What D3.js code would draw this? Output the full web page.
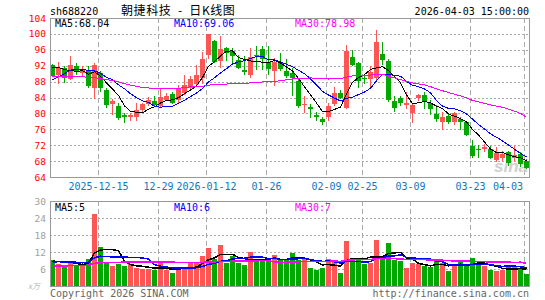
<!DOCTYPE html>
<html>
<head>
<meta charset="utf-8">
<script src="https://cdn.jsdelivr.net/npm/d3@7"></script>
<style>
  body { margin: 0; background: #fff; }
  svg { display: block; }
  text { font-family: "DejaVu Sans Mono", monospace; font-size: 10px; }
</style>
</head>
<body>
<div id="chart"></div>
<script>
// Trading days shown (2025-12-03 .. 2026-04-03)
var dates = [
  "2025-12-03","2025-12-04","2025-12-05","2025-12-08","2025-12-09","2025-12-10","2025-12-11","2025-12-12",
  "2025-12-15","2025-12-16","2025-12-17","2025-12-18","2025-12-19",
  "2025-12-22","2025-12-23","2025-12-24","2025-12-25","2025-12-26",
  "2025-12-29","2025-12-30","2025-12-31",
  "2026-01-05","2026-01-06","2026-01-07","2026-01-08","2026-01-09",
  "2026-01-12","2026-01-13","2026-01-14","2026-01-15","2026-01-16",
  "2026-01-19","2026-01-20","2026-01-21","2026-01-22","2026-01-23",
  "2026-01-26","2026-01-27","2026-01-28","2026-01-29","2026-01-30",
  "2026-02-02","2026-02-03","2026-02-04","2026-02-05","2026-02-06",
  "2026-02-09","2026-02-10","2026-02-11","2026-02-12","2026-02-13",
  "2026-02-24","2026-02-25","2026-02-26","2026-02-27",
  "2026-03-02","2026-03-03","2026-03-04","2026-03-05","2026-03-06",
  "2026-03-09","2026-03-10","2026-03-11","2026-03-12","2026-03-13",
  "2026-03-16","2026-03-17","2026-03-18","2026-03-19","2026-03-20",
  "2026-03-23","2026-03-24","2026-03-25","2026-03-26","2026-03-27",
  "2026-03-30","2026-03-31","2026-04-01","2026-04-02","2026-04-03"
];

var open = [92.3,89.6,91.3,88.7,91.9,90.2,90.7,86.3,90.2,86.0,
  82.3,81.9,79.7,79.0,79.1,80.9,82.4,83.0,81.9,83.3,
  84.8,83.3,85.1,86.4,87.3,88.8,94.6,98.2,93.2,96.5,
  95.8,93.4,90.9,89.6,94.7,96.1,92.9,90.6,93.0,90.7,
  90.2,88.1,82.3,81.7,79.7,78.5,79.1,82.4,85.2,81.4,
  94.3,92.6,88.9,88.6,88.9,94.9,93.2,83.1,84.0,82.0,
  80.1,84.0,84.6,82.7,79.9,77.8,79.3,77.8,78.5,77.8,
  71.9,71.1,71.1,71.1,68.4,68.7,70.2,68.7,69.8,68.1];

var high = [92.5,92.9,92.0,94.4,92.7,91.9,92.0,92.6,90.6,86.4,
  83.5,82.5,80.2,80.2,82.7,82.7,84.2,84.4,86.4,85.1,
  85.5,87.2,89.6,89.4,92.3,95.5,100.1,98.5,99.4,96.8,
  96.4,94.8,94.4,96.4,97.0,97.0,97.0,94.0,95.1,93.8,
  91.5,88.8,84.3,82.4,80.3,79.1,82.7,86.7,85.8,97.2,
  96.0,93.0,90.0,92.0,101.0,97.9,93.7,84.3,84.3,85.4,
  82.7,85.0,85.4,83.3,82.2,80.3,79.9,80.3,79.2,78.2,
  73.3,72.1,72.3,71.7,71.5,70.6,70.6,71.7,70.4,68.5];

var low = [89.2,87.3,87.7,88.4,89.7,89.2,86.3,83.5,85.5,81.3,
  79.5,78.4,77.6,78.2,78.0,80.2,81.8,81.8,81.4,83.0,
  82.4,82.7,84.6,85.7,86.7,87.5,93.6,92.6,91.5,93.2,
  92.8,91.2,89.6,89.0,90.9,90.9,89.6,86.9,90.6,88.8,
  84.3,81.4,80.2,78.9,78.0,77.0,78.0,81.8,83.7,81.2,
  91.9,86.4,87.3,86.4,88.4,92.2,82.9,80.3,81.8,81.2,
  77.6,83.0,81.2,79.7,77.8,75.9,77.4,77.0,75.7,74.3,
  68.7,68.9,70.4,68.5,67.7,68.1,66.8,68.1,66.6,66.0];

var close = [89.5,91.5,89.0,92.1,90.5,90.8,86.8,92.3,86.4,82.1,
  83.0,78.9,79.1,79.5,80.9,82.4,83.4,82.2,84.1,84.5,
  82.7,86.3,87.2,88.6,89.7,93.6,100.0,93.0,96.1,95.3,
  94.4,91.5,90.5,94.3,94.4,93.8,91.1,93.0,91.1,89.4,
  88.8,81.8,82.4,81.0,79.1,77.8,81.9,85.2,84.0,95.7,
  92.2,88.1,88.7,90.5,97.9,93.4,83.3,81.4,82.6,82.7,
  82.1,84.6,82.9,81.0,78.5,79.1,77.8,80.2,77.8,74.6,
  69.4,70.8,71.5,68.9,70.0,69.8,67.5,69.5,67.2,66.2];

// volume, x 10k
var volume = [9.1,7.7,7.1,8.8,7.1,7.3,9.7,25.4,13.8,8.5,
  6.9,7.7,6.9,7.7,6.4,6.1,6.0,5.5,8.0,5.5,
  4.5,6.5,6.5,8.0,8.0,10.5,13.5,9.5,14.5,8.0,
  10.5,8.0,7.5,12.0,9.0,9.0,9.0,10.8,9.1,9.1,
  11.7,9.1,9.7,6.5,5.5,6.5,9.7,8.5,4.6,15.9,
  9.7,9.7,7.7,8.1,16.4,9.7,15.2,9.1,8.8,6.2,
  8.1,7.7,6.9,6.7,8.8,8.1,5.2,7.3,9.1,6.9,
  9.8,7.7,6.9,5.5,5.3,5.5,6.9,6.9,6.1,4.3];

// sessions before the window (estimated from where the MA lines start)
var priorClose = [90,92,93,91,90, 92,94,93,91,89, 90,92,91,90,90,
  88,86,85,84,84, 83.5,81,83,88,91, 91,92,93,92];
var priorVolume = [6,7,5,6,8, 6,5,7,6,6, 7,6,5,6,8,
  7,6,6,6,6, 7,8,9,8,9, 8.5,9,8.4,9];

var priceTicks = [104,100,96,92,88,84,80,76,72,68,64];
var volTicks = [30,24,18,12,6];
var labelDates = ["2025-12-15","2025-12-29","2026-01-12","2026-01-26","2026-02-09",
  "2026-02-25","2026-03-09","2026-03-23","2026-04-03"];

var maPeriods = [5, 10, 30];
var maColors = ["#000000", "#0000ff", "#ff00ff"];
var priceMaText = ["MA5:68.04", "MA10:69.06", "MA30:78.98"];
var volMaText = ["MA5:5", "MA10:6", "MA30:7"];

var width = 545, height = 300,
    left = 50, right = 529,
    priceTop = 18, priceBottom = 177,
    volTop = 201, volBottom = 286;

var upColor = "#ff5555", downColor = "#00a800",
    gridColor = "#aaaaaa", borderColor = "#999999";

var svg = d3.select("#chart").append("svg")
    .attr("width", width)
    .attr("height", height);

var x = d3.scaleBand().domain(dates).range([left, right]).paddingInner(1 / 6).paddingOuter(0);
var bw = x.bandwidth();
function cx(d) { return x(d) + bw / 2; }

var y = d3.scaleLinear().domain([64, 104]).range([priceBottom, priceTop]);
var yv = d3.scaleLinear().domain([0, 30]).range([volBottom, volTop]);

function movingAvg(values, prior, n) {
  var all = prior.concat(values);
  return values.map(function(v, i) {
    var j = i + prior.length;
    return d3.mean(all.slice(j - n + 1, j + 1));
  });
}

var rows = dates.map(function(d, i) {
  return { date: d, o: open[i], h: high[i], l: low[i], c: close[i], v: volume[i] };
});

// Grid for one panel
function drawGrid(g, scale, ticks, top, bottom) {
  g.selectAll(".hgrid")
      .data(ticks.filter(function(t) { var p = Math.round(scale(t)); return p > top + 1 && p < bottom - 1; }))
    .enter().append("line")
      .attr("x1", left).attr("x2", right)
      .attr("y1", function(t) { return Math.round(scale(t)) + 0.5; })
      .attr("y2", function(t) { return Math.round(scale(t)) + 0.5; })
      .attr("stroke", gridColor)
      .attr("stroke-dasharray", "2,2")
      .attr("shape-rendering", "crispEdges");

  g.selectAll(".vgrid")
      .data(labelDates)
    .enter().append("line")
      .attr("x1", function(d) { return x(d) + 0.5; })
      .attr("x2", function(d) { return x(d) + 0.5; })
      .attr("y1", top).attr("y2", bottom)
      .attr("stroke", gridColor)
      .attr("stroke-dasharray", "5,3")
      .attr("shape-rendering", "crispEdges");
}

/* Header */
svg.append("text").attr("x", 50).attr("y", 15).attr("fill", "#000").text("sh688220");
svg.append("text").attr("x", 121).attr("y", 15)
    .style("font-family", "'Noto Sans CJK SC', sans-serif").style("font-size", "12px")
    .style("letter-spacing", "0.6px").style("white-space", "pre")
    .attr("fill", "#000").text("朝捷科技  -  日K线图");
svg.append("text").attr("x", right).attr("y", 15).attr("text-anchor", "end")
    .attr("fill", "#000").text("2026-04-03 15:00:00");

/* Price panel */
var gp = svg.append("g");
drawGrid(gp, y, priceTicks, priceTop, priceBottom);

gp.selectAll(".plabel")
    .data(priceTicks)
  .enter().append("text")
    .attr("x", 46)
    .attr("y", function(t) { return y(t) + 3.5; })
    .attr("text-anchor", "end")
    .style("font-size", "9.5px")
    .attr("fill", "#ff0000")
    .text(function(t) { return t; });

// watermark
gp.append("text")
    .attr("x", 494).attr("y", 172)
    .style("font-family", "'Liberation Sans', sans-serif")
    .style("font-size", "17px").style("font-weight", "bold").style("font-style", "italic")
    .attr("fill", "#d0d0d0")
    .text("sina");

// candles
var candles = gp.selectAll(".candle")
    .data(rows)
  .enter().append("g");

candles.append("line")
    .attr("x1", function(d) { return cx(d.date); })
    .attr("x2", function(d) { return cx(d.date); })
    .attr("y1", function(d) { return Math.round(y(d.h)); })
    .attr("y2", function(d) { return Math.round(y(d.l)); })
    .attr("stroke", function(d) { return d.c >= d.o ? upColor : downColor; })
    .attr("shape-rendering", "crispEdges");

candles.append("rect")
    .attr("x", function(d) { return x(d.date); })
    .attr("width", bw)
    .attr("y", function(d) { return Math.round(y(Math.max(d.o, d.c))); })
    .attr("height", function(d) { return Math.max(1, Math.round(y(Math.min(d.o, d.c))) - Math.round(y(Math.max(d.o, d.c)))); })
    .attr("fill", function(d) { return d.c >= d.o ? upColor : downColor; })
    .attr("shape-rendering", "crispEdges");

// moving averages
maPeriods.forEach(function(n, k) {
  var ma = movingAvg(close, priorClose, n);
  var line = d3.line()
      .x(function(d, i) { return cx(dates[i]); })
      .y(function(d) { return y(d); });
  gp.append("path")
      .datum(ma)
      .attr("d", line)
      .attr("fill", "none")
      .attr("stroke", maColors[k])
      .attr("stroke-width", 1)
      .attr("shape-rendering", "crispEdges");
});

gp.append("rect")
    .attr("x", left + 0.5).attr("y", priceTop + 0.5)
    .attr("width", right - left).attr("height", priceBottom - priceTop)
    .attr("fill", "none").attr("stroke", borderColor)
    .attr("shape-rendering", "crispEdges");

var legendX = [55, 174, 295];
priceMaText.forEach(function(t, k) {
  gp.append("text").attr("x", legendX[k]).attr("y", 27)
      .attr("fill", maColors[k]).text(t);
});

// date labels
gp.selectAll(".dlabel")
    .data(labelDates)
  .enter().append("text")
    .attr("y", 190)
    .attr("fill", "#0b77c5")
    .text(function(d, i) {
      return (i === 0 || d.slice(0, 4) !== labelDates[i - 1].slice(0, 4)) ? d : d.slice(5);
    })
    .attr("x", function(d) {
      var w = this.getComputedTextLength();
      return Math.min(x(d) + 0.5, right - 6 - w / 2) - w / 2;
    });

/* Volume panel */
var gv = svg.append("g");
drawGrid(gv, yv, volTicks, volTop, volBottom);

gv.selectAll(".vlabel")
    .data(volTicks)
  .enter().append("text")
    .attr("x", 46)
    .attr("y", function(t) { return yv(t) + 3.5; })
    .attr("text-anchor", "end")
    .style("font-size", "9.5px")
    .attr("fill", "#a0a0a0")
    .text(function(t) { return t; });

gv.append("text").attr("x", 28).attr("y", 289)
    .style("font-family", "'Noto Sans CJK SC', sans-serif")
    .style("font-size", "8px").style("font-style", "italic")
    .attr("fill", "#bbbbbb").text("x万");

gv.selectAll(".bar")
    .data(rows)
  .enter().append("rect")
    .attr("x", function(d) { return x(d.date); })
    .attr("width", bw)
    .attr("y", function(d) { return Math.round(yv(d.v)); })
    .attr("height", function(d) { return volBottom - Math.round(yv(d.v)); })
    .attr("fill", function(d) { return d.c >= d.o ? upColor : downColor; })
    .attr("shape-rendering", "crispEdges");

maPeriods.forEach(function(n, k) {
  var ma = movingAvg(volume, priorVolume, n);
  var line = d3.line()
      .x(function(d, i) { return cx(dates[i]); })
      .y(function(d) { return yv(d); });
  gv.append("path")
      .datum(ma)
      .attr("d", line)
      .attr("fill", "none")
      .attr("stroke", maColors[k])
      .attr("stroke-width", 1.5)
      .attr("shape-rendering", "crispEdges");
});

gv.append("rect")
    .attr("x", left + 0.5).attr("y", volTop + 0.5)
    .attr("width", right - left).attr("height", volBottom - volTop)
    .attr("fill", "none").attr("stroke", borderColor)
    .attr("shape-rendering", "crispEdges");

volMaText.forEach(function(t, k) {
  gv.append("text").attr("x", legendX[k]).attr("y", 211)
      .attr("fill", maColors[k]).text(t);
});

/* Footer */
svg.append("text").attr("x", 50).attr("y", 297).attr("fill", "#666666").text("Copyright 2026 SINA.COM");
svg.append("text").attr("x", right).attr("y", 297).attr("text-anchor", "end")
    .attr("fill", "#666666").text("http://finance.sina.com.cn");
</script>
</body>
</html>
